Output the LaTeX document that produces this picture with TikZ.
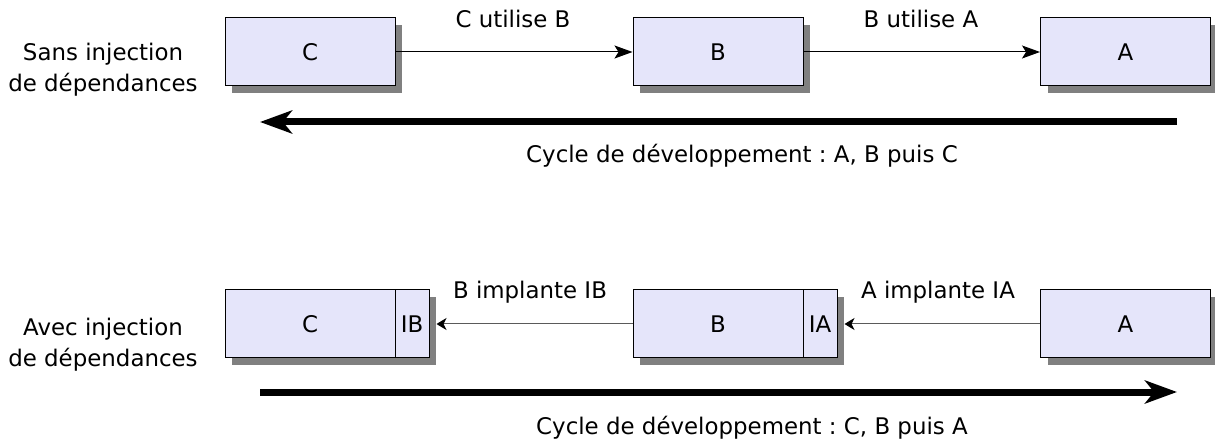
\documentclass[tikz,border=0pt]{standalone}
\usepackage{fontspec}
\setmainfont{DejaVu Sans}
\usetikzlibrary{arrows.meta,shadows}
\frenchspacing
\begin{document}
\begin{tikzpicture}[x=1pt,y=-1pt,
  every node/.style={font=\fontsize{22.9}{31}\selectfont, inner sep=0pt},
  box/.style={draw=black, line width=1pt, fill=boxfill, minimum height=68pt,
    drop shadow={shadow xshift=7pt, shadow yshift=-7pt, fill=shadowgray, opacity=1}},
  usearrow/.style={draw=black, line width=1pt, -{Stealth[length=18pt,width=13pt,inset=4pt]}},
  implarrow/.style={draw=linegray, line width=1pt, -{Stealth[length=10pt,width=12pt,inset=3pt,color=black]}},
  cyclearrow/.style={line width=7pt, -{Stealth[length=32pt,width=23pt,inset=9pt]}},
  lbl/.style={anchor=base}
]
\definecolor{boxfill}{RGB}{229,229,250}
\definecolor{shadowgray}{RGB}{128,128,128}
\definecolor{linegray}{RGB}{90,90,90}
\useasboundingbox (0,0) rectangle (1215,443);

% left labels
\node[align=center] (sans) at (103,70) {Sans injection\\de dépendances};
\node[align=center] (avec) at (103,345) {Avec injection\\de dépendances};

% top row
\node[box, minimum width=170pt] (C) at (310,52) {C};
\node[box, minimum width=170pt] (B) at (718,52) {B};
\node[box, minimum width=170pt] (A) at (1125.5,52) {A};
\draw[usearrow] (C.east) -- (B.west);
\draw[usearrow] (B.east) -- (A.west);
\node[lbl] (l1) at (513,28) {C utilise B};
\node[lbl] (l2) at (921,28) {B utilise A};

\coordinate (t1) at (1177,122);
\coordinate (t2) at (260,122);
\draw[cyclearrow] (t1) -- (t2);
\node[lbl] (c1) at (742,163) {Cycle de développement : A, B puis C};

% bottom row
\node[box, minimum width=170pt] (C2) at (310,324) {C};
\node[box, minimum width=34pt] (IB) at (412,324) {IB};
\node[box, minimum width=170pt] (B2) at (718,324) {B};
\node[box, minimum width=34pt] (IA) at (820,324) {IA};
\node[box, minimum width=170pt] (A2) at (1125.5,324) {A};
\coordinate (ibt) at ([xshift=7pt]IB.east);
\coordinate (iat) at ([xshift=7pt]IA.east);
\draw[implarrow] (B2.west) -- (ibt);
\draw[implarrow] (A2.west) -- (iat);
\node[lbl] (l3) at (530,299) {B implante IB};
\node[lbl] (l4) at (938,299) {A implante IA};

\coordinate (t3) at (260,392);
\coordinate (t4) at (1177,392);
\draw[cyclearrow] (t3) -- (t4);
\node[lbl] (c2) at (752,434) {Cycle de développement : C, B puis A};
\end{tikzpicture}
\end{document}
